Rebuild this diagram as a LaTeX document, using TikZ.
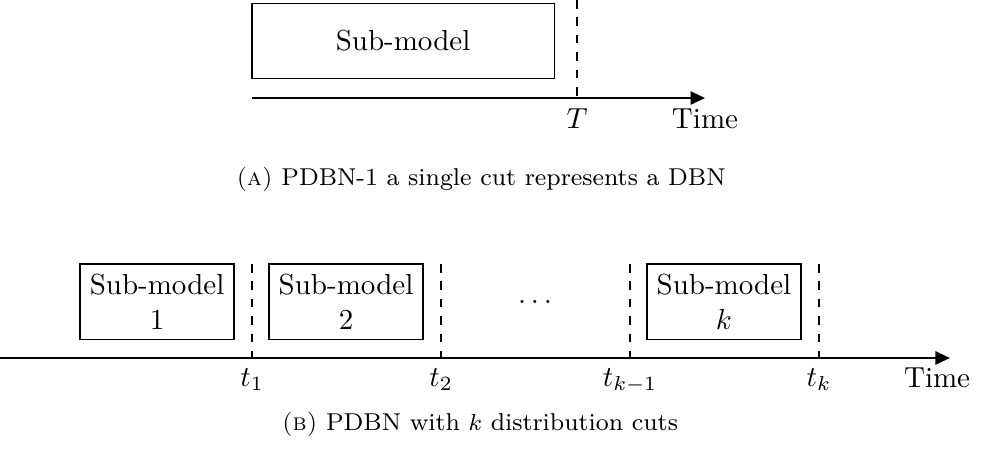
\documentclass[tikz,border=0pt]{standalone}
\usetikzlibrary{arrows.meta}

\begin{document}
\begin{tikzpicture}[submodel/.style={draw,align=center,minimum height=9.1mm},
  timeline/.style={-{Triangle[length=5pt,width=4.6pt]},semithick},
  cut/.style={dashed},
  caption/.style={font=\fontsize{8.4}{10}\selectfont}]
  \useasboundingbox (0,0) rectangle (11.948,-5.477);

  % (a) one cut
  \node[submodel,minimum width=3.66cm] (sub) at (4.884,-0.497) {Sub-model};
  \coordinate (startA) at (3.054,-1.188);
  \coordinate (endA) at (8.543,-1.188);
  \coordinate (cutT) at (6.992,0);
  \draw[timeline] (startA) -- (endA) node[below] (timeA) {Time};
  \draw[cut] (cutT) -- (cutT |- startA) node[below] (labT) {$T$};
  \node[caption] (capA) at (5.83,-2.18) {\textsc{(a)} PDBN-1 a single cut represents a DBN};

  % (b) k cuts
  \coordinate (startB) at (0,-4.338);
  \coordinate (endB) at (11.51,-4.338);
  \draw[timeline] (startB) -- (endB);
  \node[below] (timeB) at (11.355,-4.338) {Time};
  \node[submodel,minimum width=1.866cm] (sub1) at (1.903,-3.654) {Sub-model\\1};
  \node[submodel,minimum width=1.866cm] (sub2) at (4.193,-3.654) {Sub-model\\2};
  \node (dots) at (6.483,-3.66) {$\dots$};
  \node[submodel,minimum width=1.866cm] (subk) at (8.773,-3.654) {Sub-model\\$k$};
  \foreach \x/\lab [count=\i] in {3.054/t_1,5.344/t_2,7.634/t_{k-1},9.925/t_k} {
    \coordinate (cut\i) at (\x,-3.199);
    \draw[cut] (cut\i) -- (cut\i |- startB) node[below] (labt\i) {$\lab$};
  }
  \node[caption] (capB) at (5.817,-5.138) {\textsc{(b)} PDBN with $k$ distribution cuts};
\end{tikzpicture}
\end{document}
